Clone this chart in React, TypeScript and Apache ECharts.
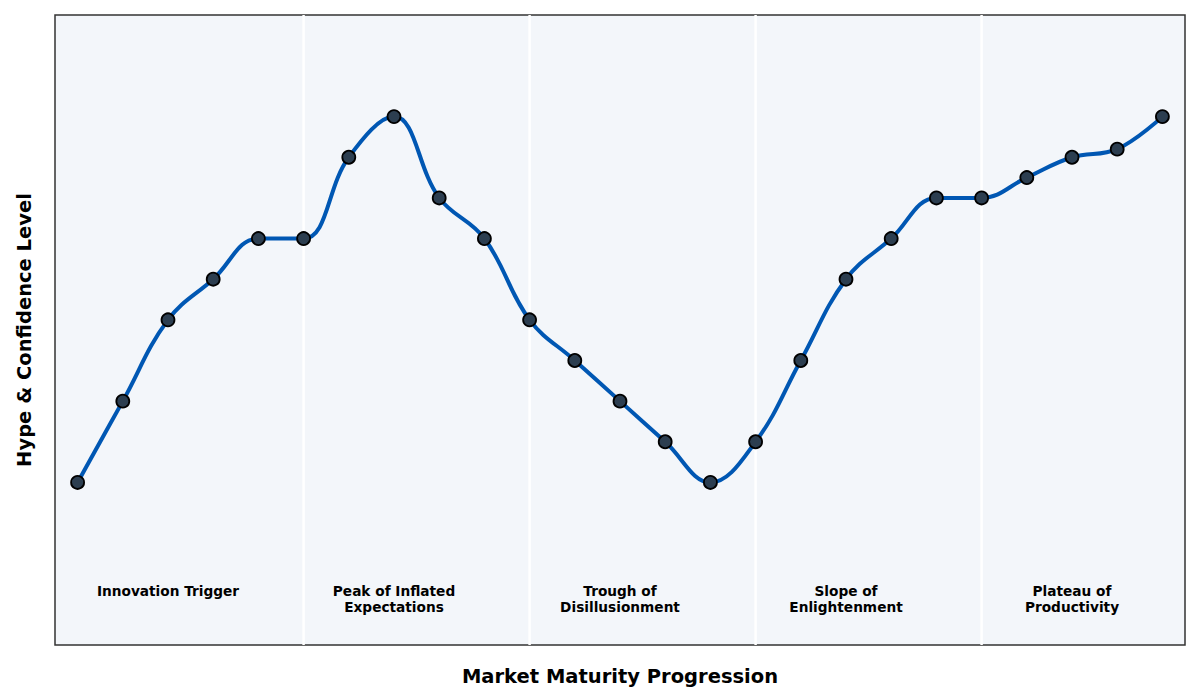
import React, { useEffect, useRef } from 'react';
import * as echarts from 'echarts';

// positions along the maturity axis (one point per step)
const steps = Array.from({ length: 25 }, (_, i) => i);
const hypeLevels = [
  20, 40, 60, 70, 80, 80, 100, 110, 90, 80, 60, 50, 40, 30, 20, 30, 50, 70, 80, 90, 90, 95, 100, 102, 110,
];
const phaseBoundaries = [5, 10, 15, 20];
const phaseCenters = [2, 7, 12, 17, 22];
const phaseNames = [
  'Innovation Trigger',
  'Peak of Inflated\nExpectations',
  'Trough of\nDisillusionment',
  'Slope of\nEnlightenment',
  'Plateau of\nProductivity',
];
const phaseLabelLevel = -4.7;
const yMin = -20;
const yMax = 135;

const FONT = '"DejaVu Sans", sans-serif';

const App = () => {
  const chartRef = useRef<HTMLDivElement>(null);

  useEffect(() => {
    document.body.style.margin = '0';
    if (!chartRef.current) return;

    const chart = echarts.init(chartRef.current, undefined, { renderer: 'svg' });

    // white separators between phases, drawn under the curve
    const dividers = phaseBoundaries.map((b) => ({
      type: 'line',
      silent: true,
      z: 1,
      symbol: 'none',
      data: [
        [b, yMin],
        [b, yMax],
      ],
      lineStyle: { color: '#ffffff', width: 2.5 },
    }));

    chart.setOption({
      animation: false,
      grid: {
        left: 55,
        right: 15,
        top: 15,
        bottom: 55,
        show: true,
        backgroundColor: '#f3f6fa',
        borderColor: '#333333',
        borderWidth: 1.5,
      },
      xAxis: {
        type: 'value',
        min: -0.5,
        max: 24.5,
        name: 'Market Maturity Progression',
        nameLocation: 'middle',
        nameGap: 21,
        nameTextStyle: { fontFamily: FONT, fontWeight: 'bold', fontSize: 19.5, color: '#000' },
        axisLine: { show: false },
        axisTick: { show: false },
        axisLabel: { show: false },
        splitLine: { show: false },
      },
      yAxis: {
        type: 'value',
        min: yMin,
        max: yMax,
        name: 'Hype & Confidence Level',
        nameLocation: 'middle',
        nameGap: 21,
        nameTextStyle: { fontFamily: FONT, fontWeight: 'bold', fontSize: 19.5, color: '#000' },
        axisLine: { show: false },
        axisTick: { show: false },
        axisLabel: { show: false },
        splitLine: { show: false },
      },
      series: [
        ...dividers,
        {
          type: 'scatter',
          silent: true,
          z: 2,
          symbol: 'circle',
          symbolSize: 1,
          itemStyle: { color: 'rgba(0,0,0,0)', opacity: 1 },
          data: phaseCenters.map((c, i) => ({ value: [c, phaseLabelLevel], name: phaseNames[i] })),
          label: {
            show: true,
            position: 'bottom',
            distance: 0,
            formatter: (p: any) => p.name,
            fontFamily: FONT,
            fontWeight: 'bold',
            fontSize: 13.7,
            lineHeight: 16,
            align: 'center',
            color: '#000000',
            textBorderWidth: 0,
          },
        },
        {
          type: 'line',
          data: steps.map((s, i) => [s, hypeLevels[i]]),
          smooth: 0.4,
          symbol: 'circle',
          symbolSize: 13,
          z: 3,
          lineStyle: { color: '#0057b3', width: 4 },
          itemStyle: { color: '#2c3e50', borderColor: '#000000', borderWidth: 1.8 },
        },
      ],
    });

    return () => {
      chart.dispose();
    };
  }, []);

  return <div ref={chartRef} style={{ width: 1200, height: 700 }} />;
};

export default App;
